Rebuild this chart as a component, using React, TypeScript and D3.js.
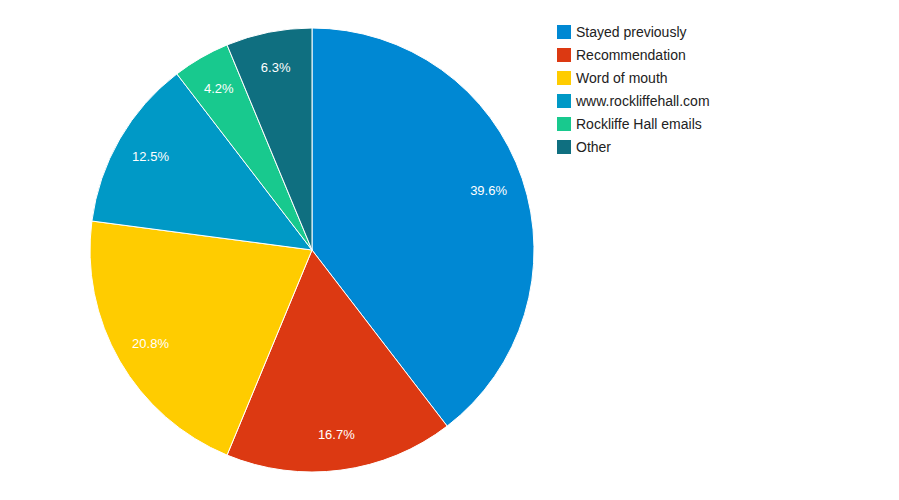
import React from "react";
import * as d3 from "d3";

const categories = ["Stayed previously", "Recommendation", "Word of mouth", "www.rockliffehall.com", "Rockliffe Hall emails", "Other"];
const values = [19, 8, 10, 6, 2, 3];
const colors = ["#0088d3", "#dc3912", "#ffcc00", "#0099c6", "#18c98e", "#0f6f80"];

export default function App() {
  const cx = 312, cy = 250, r = 222;
  const total = d3.sum(values);
  const arcs = d3.pie<number>().sort(null)(values);
  const arc = d3.arc<d3.PieArcDatum<number>>().innerRadius(0).outerRadius(r);
  const lab = d3.arc<d3.PieArcDatum<number>>().innerRadius(r * 0.84).outerRadius(r * 0.84);
  return (
    <svg width={899} height={500} style={{ position: "absolute", left: 0, top: 0, fontFamily: "Arial, 'Liberation Sans', sans-serif" }}>
      <rect width={899} height={500} fill="#fff" />
      <g transform={`translate(${cx},${cy})`}>
        {arcs.map((a, i) => (
          <path key={i} d={arc(a) || ""} fill={colors[i]} stroke="#fff" strokeWidth={1} />
        ))}
        {arcs.map((a, i) => {
          const [x, y] = lab.centroid(a);
          return (
            <text key={i} x={x} y={y} dy="0.35em" textAnchor="middle" fill="#fff" fontSize={13}>
              {((values[i] / total) * 100).toFixed(1)}%
            </text>
          );
        })}
      </g>
      {categories.map((c, i) => (
        <g key={c} transform={`translate(557,${25 + i * 23})`}>
          <rect width={14} height={14} fill={colors[i]} />
          <text x={19} y={7} dy="0.35em" fontSize={14} fill="#222">{c}</text>
        </g>
      ))}
    </svg>
  );
}
